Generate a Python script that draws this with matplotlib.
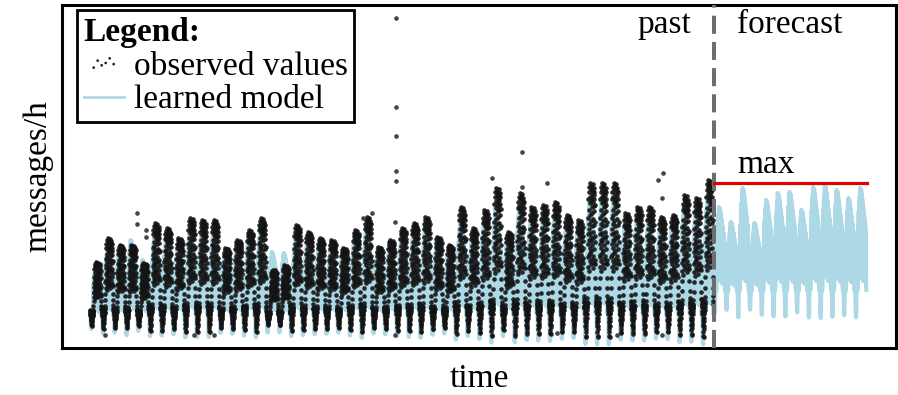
import numpy as np
import matplotlib
matplotlib.use('Agg')
import matplotlib.pyplot as plt

plt.rcParams['font.family'] = ['Liberation Serif', 'DejaVu Serif']

# daily peak level of the observed messages/h (one value per day)
observed_peaks = [86, 110, 103, 103, 85, 125, 120, 110, 130, 128,
                  128, 100, 108, 118, 130, 78, 83, 123, 116, 110, 108,
                  100, 118, 131, 101, 108, 120, 125, 131, 111, 103, 141, 120,
                  138, 160, 116, 155, 141, 143, 146, 133, 128, 165,
                  165, 165, 135, 141, 141, 131, 133, 153, 150, 168]
# daily peak level of the learned model over the past
model_peaks = [80, 100, 96, 108, 88, 112, 110, 104, 118, 116,
               116, 98, 102, 110, 118, 96, 95, 112, 108, 104, 102,
               96, 110, 120, 100, 104, 112, 116, 120, 106, 100, 128, 112,
               126, 142, 112, 140, 130, 132, 134, 124, 120, 148,
               150, 150, 128, 132, 132, 124, 126, 140, 138, 150]
# daily peak level of the forecast
forecast_peaks = [141, 126, 160, 125, 148, 155, 156, 138, 161, 163, 158, 150, 160]

observed_base = 30
model_base = 30
forecast_base = 54
max_level = 165

# quarter-hourly shape of an observed day (share of the day's range above the base level)
observed_profile = [0.14, 0.08, 0.12, 0.05, 0.10, 0.03, 0.07, -0.02, 0.04, -0.06,
                    0.00, -0.10, -0.04, -0.13, -0.08, -0.14, -0.06, -0.02, 0.04, 0.00,
                    0.08, 0.03, 0.10, 0.06, 0.12, 0.08, 0.15, 0.11, 0.22, 0.30,
                    0.45, 0.62, 0.38, 0.74, 0.55, 0.88, 0.47, 0.66, 0.93, 0.58,
                    0.35, 0.80, 0.70, 0.97, 0.52, 0.42, 0.76, 0.90, 0.63, 1.00,
                    0.48, 0.85, 0.57, 0.95, 0.40, 0.72, 0.87, 0.60, 0.98, 0.50,
                    0.68, 0.92, 0.44, 0.82, 0.96, 0.54, 0.78, 0.89, 0.37, 0.99,
                    0.64, 0.86, 0.46, 0.94, 0.73, 0.59, 0.91, 0.83, 0.41, 0.96,
                    0.69, 0.88, 0.51, 0.79, 0.93, 0.61, 0.84, 0.43, 0.71, 0.56,
                    0.40, 0.30, 0.22, 0.16, 0.12, 0.10]
# half-hourly shape of a model day
model_profile = [0.05, 0.03, 0.05, -0.06, -0.20, -0.22, -0.08, 0.02, 0.04, 0.03, 0.05, 0.04, 0.06,
                 0.45,
                 0.66, 0.20, 0.78, 0.35, 0.86, 0.15, 0.92, 0.40, 1.00, 0.25, 0.96, 0.50,
                 0.98, 0.18, 0.94, 0.42, 0.90, 0.22, 0.86, 0.55, 0.82, 0.12, 0.78, 0.38,
                 0.74, 0.20, 0.70, 0.45, 0.66, 0.15, 0.60, 0.30,
                 0.08, 0.04]

# isolated observations away from the daily pattern (day, messages/h)
outlier_days = [4.0, 4.0, 4.76, 4.76, 26.0, 26.0, 26.0, 26.0, 26.0, 25.9, 23.2, 24.0,
                36.7, 34.2, 36.7, 38.8, 48.7, 48.3, 48.6,
                44.8, 48.6, 39.7, 25.9, 1.3, 8.8, 10.5]
outlier_values = [135, 124, 118, 111, 330, 241, 212, 177, 167, 126, 130, 135,
                  196, 170, 161, 165, 175, 168, 150,
                  13, 13, 15, 13, 13, 13, 13]


def day_series(peaks, profile, base, start_day):
    prof = np.array(profile)
    steps = len(prof)
    t = []
    v = []
    for i, p in enumerate(peaks):
        t.extend(start_day + i + np.arange(steps) / steps)
        v.extend(base + (p - base) * prof)
    return np.array(t), np.array(v)


n_past = len(observed_peaks)
obs_t, obs_v = day_series(observed_peaks, observed_profile, observed_base, 0)
mod_t, mod_v = day_series(model_peaks, model_profile, model_base, 0)
fc_t, fc_v = day_series(forecast_peaks, model_profile, forecast_base, n_past)

fig = plt.figure(figsize=(8.98, 3.95), dpi=100)
ax = fig.add_axes([62 / 898, 1 - 348 / 395, (896 - 62) / 898, (348 - 5) / 395])

ax.plot(mod_t, mod_v, color='#add8e6', lw=3, zorder=1)
ax.plot(fc_t, fc_v, color='#add8e6', lw=3, zorder=1, label='learned model')
ax.scatter(obs_t, obs_v, s=11, color='#141414', alpha=0.9, linewidths=0, zorder=2,
           label='observed values')
ax.scatter(outlier_days, outlier_values, s=11, color='#303030', alpha=0.9, linewidths=0, zorder=2)

# past / forecast split and max level
ax.axvline(n_past, color='#6e6e6e', lw=2.9, linestyle=(0, (4.5, 2)), zorder=3)
ax.plot([n_past, n_past + len(forecast_peaks)], [max_level, max_level], color='#e00000', lw=2.3, zorder=4)
ax.text(n_past - 1.9, 323, 'past', fontsize=24, ha='right', va='center')
ax.text(n_past + 2.0, 323, 'forecast', fontsize=24, ha='left', va='center')
ax.text(n_past + 2.0, 183, 'max', fontsize=24, ha='left', va='center')

ax.set_xlim(-2.38, 68.5)
ax.set_ylim(0, 343)
ax.set_xticks([])
ax.set_yticks([])
for s in ax.spines.values():
    s.set_linewidth(2.2)
ax.set_xlabel('time', fontsize=24, labelpad=11)
ax.set_ylabel('messages/h', fontsize=24, labelpad=6)

handles, labels = ax.get_legend_handles_labels()
order = [labels.index('observed values'), labels.index('learned model')]
leg = ax.legend([handles[i] for i in order], [labels[i] for i in order],
                title='Legend:', loc='upper left', bbox_to_anchor=(0.018, 0.985),
                borderaxespad=0, fontsize=24, title_fontproperties={'weight': 'bold', 'size': 24},
                alignment='left', fancybox=False, edgecolor='black', framealpha=1,
                handlelength=1.2, handletextpad=0.3, borderpad=0.2, labelspacing=0.1,
                scatterpoints=6, scatteryoffsets=[0.3, 0.6, 0.4, 0.5, 0.7, 0.45], markerscale=0.6)
leg.get_frame().set_linewidth(2)
for line in leg.get_lines():
    line.set_linewidth(2)

fig.savefig('out.png', dpi=100)
